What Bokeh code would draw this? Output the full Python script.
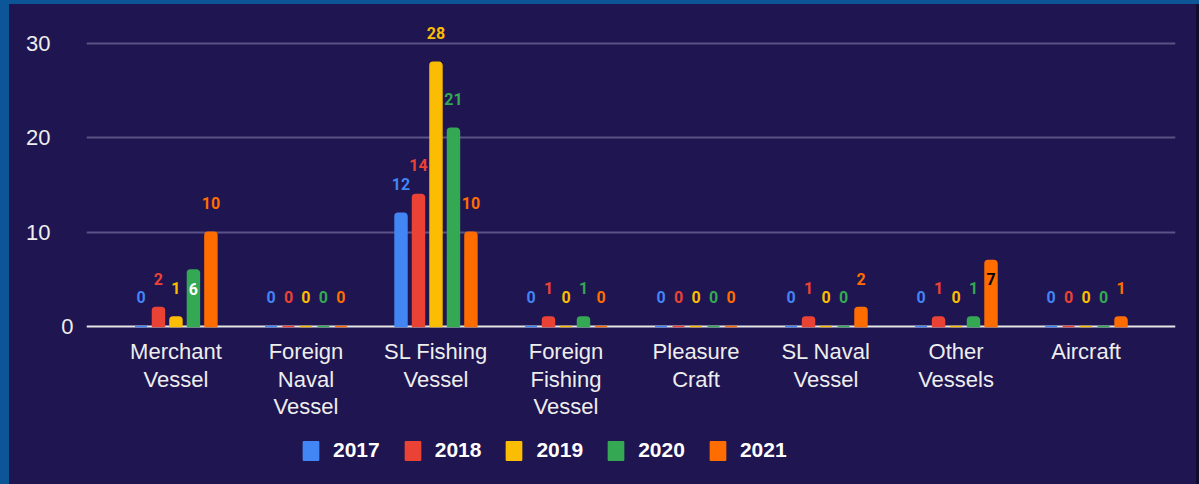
from bokeh.plotting import figure
from bokeh.models import (ColumnDataSource, FactorRange, Range1d, Legend, LegendItem,
                          FixedTicker, Span, LinearAxis, Spacer)
from bokeh.layouts import column, row
from bokeh.transform import dodge
from bokeh.core.properties import value
from bokeh.embed import file_html
from bokeh.resources import INLINE

categories = ["Merchant Vessel", "Foreign Naval Vessel", "SL Fishing Vessel",
              "Foreign Fishing Vessel", "Pleasure Craft", "SL Naval Vessel",
              "Other Vessels", "Aircraft"]
category_labels = ["Merchant\nVessel", "Foreign\nNaval\nVessel", "SL Fishing\nVessel",
                   "Foreign\nFishing\nVessel", "Pleasure\nCraft", "SL Naval\nVessel",
                   "Other\nVessels", "Aircraft"]
years = ["2017", "2018", "2019", "2020", "2021"]
v2017 = [0, 0, 12, 0, 0, 0, 0, 0]
v2018 = [2, 0, 14, 1, 0, 1, 1, 0]
v2019 = [1, 0, 28, 0, 0, 0, 0, 0]
v2020 = [6, 0, 21, 1, 0, 0, 1, 0]
v2021 = [10, 0, 10, 0, 0, 2, 7, 1]
y_ticks = [0, 10, 20, 30]
inside_labels = [("Merchant Vessel", "2020"), ("Other Vessels", "2021")]

series = [v2017, v2018, v2019, v2020, v2021]
colors = ["#4285f4", "#ea4335", "#fbbc04", "#34a853", "#ff6d01"]
inside_colors = {"2020": "#ffffff", "2021": "#000000"}
offsets = [-0.269, -0.1345, 0.0, 0.1345, 0.269]

BG = "#1f1550"
BLUE = "#0c5697"
DARK = "#110b2c"
TXT = "#eeeeee"

p = figure(x_range=FactorRange(*categories, range_padding=0.188, range_padding_units="absolute"),
           y_range=Range1d(-16.75, 32.01),
           width=1187, height=480, output_backend="svg", toolbar_location=None,
           x_axis_location=None,
           min_border_left=77, min_border_right=21, min_border_top=20, min_border_bottom=0,
           styles={"background-color": BG})

p.background_fill_color = BG
p.border_fill_color = BG
p.outline_line_color = None

p.xgrid.grid_line_color = None
p.ygrid.ticker = FixedTicker(ticks=[t for t in y_ticks if t > 0])
p.ygrid.grid_line_color = "#5c5286"
p.ygrid.grid_line_width = 2

axis_style = dict(axis_line_color=None, major_tick_line_color=None, minor_tick_line_color=None,
                  major_tick_out=0, minor_tick_out=0,
                  major_label_text_font="Liberation Sans", major_label_text_font_size="22px",
                  major_label_text_color=TXT)

# baseline label sits closer to the plot than the other value labels
ya = p.yaxis[0]
ya.ticker = FixedTicker(ticks=[t for t in y_ticks if t == 0])
ya.major_label_standoff = 13
for k, v in axis_style.items():
    setattr(ya, k, v)

yb = LinearAxis(ticker=FixedTicker(ticks=[t for t in y_ticks if t > 0]),
                major_label_standoff=8, **axis_style)
p.add_layout(yb, "left")

# baseline (category axis line)
p.add_layout(Span(location=0, dimension="width", line_color="#e6e6e6", line_width=2,
                  level="underlay"))

# category labels under the baseline
cat_src = ColumnDataSource(dict(cat=categories, lbl=category_labels,
                                base=[0] * len(categories)))
p.text(x="cat", y="base", text="lbl", source=cat_src, y_offset=13,
       text_align="center", text_baseline="top", text_color=TXT,
       text_font=value("Liberation Sans"), text_font_size="22px", text_line_height=1.1)

items = []
for yr, vals, col, off in zip(years, series, colors, offsets):
    tcolors = []
    yoffs = []
    for cat in categories:
        if (cat, yr) in inside_labels:
            tcolors.append(inside_colors[yr])
            yoffs.append(19)
        else:
            tcolors.append(col)
            yoffs.append(-29)
    src = ColumnDataSource(dict(cat=categories, val=vals, lbl=[str(v) for v in vals],
                                tcolor=tcolors, yoff=yoffs))
    r = p.vbar(x=dodge("cat", off, range=p.x_range), top="val", bottom=0, width=0.092,
               source=src, fill_color=col, line_color=col, line_width=1.5,
               border_radius=(3, 3, 0, 0))
    items.append(LegendItem(label=yr, renderers=[r]))
    p.text(x=dodge("cat", off, range=p.x_range), y="val", text="lbl", source=src,
           text_color="tcolor", y_offset="yoff", text_align="center", text_baseline="middle",
           text_font=value("Roboto"), text_font_style="bold", text_font_size="16px")

legend = Legend(items=items, orientation="horizontal", location=(215, 22),
                padding=0, margin=0, spacing=23, glyph_width=19, glyph_height=23,
                label_standoff=13, label_text_font="Liberation Sans",
                label_text_font_style="bold", label_text_font_size="21px",
                label_text_color="#ffffff", background_fill_alpha=0,
                border_line_color=None)
p.add_layout(legend, "center")

top_strip = Spacer(width=1199, height=4, styles={"background-color": BLUE})
left_strip = Spacer(width=9, height=480, styles={"background-color": BLUE})
right_strip = Spacer(width=3, height=480, styles={"background-color": DARK})
page = column(top_strip, row(left_strip, p, right_strip, spacing=0), spacing=0,
              styles={"background-color": BG})

open("out.html", "w").write(file_html(page, INLINE))
